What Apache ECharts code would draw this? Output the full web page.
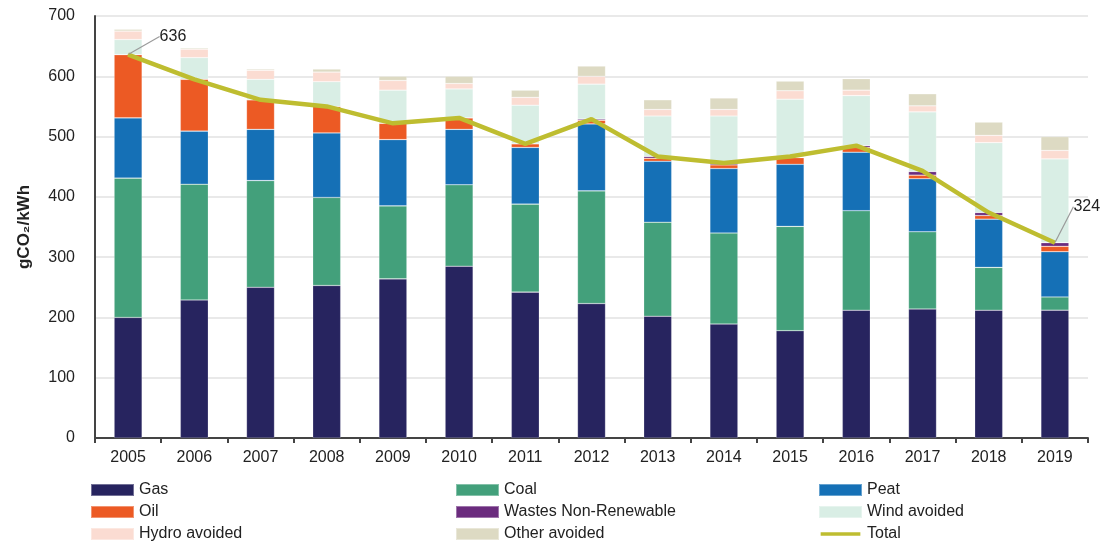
<!DOCTYPE html>
<html>
<head>
<meta charset="utf-8">
<script src="https://cdn.jsdelivr.net/npm/echarts@6/dist/echarts.min.js"></script>
<style>
  html, body { margin: 0; padding: 0; background: #fff; }
  #co2-intensity-chart { width: 1103px; height: 546px; }
</style>
</head>
<body>
<div id="co2-intensity-chart"></div>
<script>
// years on the x axis
var years = ["2005", "2006", "2007", "2008", "2009", "2010", "2011", "2012", "2013", "2014", "2015", "2016", "2017", "2018", "2019"];

// emissions by fuel, gCO2/kWh
var gas = [200, 229, 250, 253, 264, 285, 242, 223, 202, 189, 178, 212, 214, 212, 212];
var coal = [231, 192, 177, 146, 121, 135, 146, 187, 156, 151, 173, 165, 128, 71, 22];
var peat = [100, 88, 85, 107, 110, 92, 94, 111, 101, 107, 103, 97, 88, 80, 75];
var oil = [105, 86, 49, 44, 27, 19, 6, 6, 5, 6, 11, 8, 6, 6, 9];
var wastes = [0, 0, 0, 0, 0, 0, 0, 2, 3, 3, 1, 3, 6, 5, 6];
// avoided by renewables
var windAvoided = [25, 36, 34, 41, 55, 48, 64, 58, 67, 78, 96, 83, 99, 116, 139];
var hydroAvoided = [14, 14, 15, 16, 16, 9, 13, 13, 11, 11, 14, 9, 10, 12, 14];
var otherAvoided = [3, 2, 2, 5, 7, 12, 12, 17, 16, 19, 16, 19, 20, 22, 23];
// total intensity line
var total = [636, 595, 561, 550, 522, 531, 488, 529, 467, 456, 467, 485, 443, 374, 324];

var yTicks = [0, 100, 200, 300, 400, 500, 600, 700];

var fontFam = "'Liberation Sans', Arial, sans-serif";

var chartDom = document.getElementById("co2-intensity-chart");
var myChart = echarts.init(chartDom);

function barSeries(name, data, color) {
  return {
    name: name,
    type: "bar",
    stack: "co2",
    barWidth: 28,
    color: color,
    itemStyle: { borderColor: "rgba(255,255,255,0.35)", borderWidth: 0.6 },
    data: data,
  };
}

// labels only on first and last point of total
var totalData = total.map(function (v, i) {
  if (i === 0 || i === total.length - 1) {
    return { value: v, label: { show: true } };
  }
  return v;
});

// thick line icon for the Total legend entry (extra move-tos keep the box 43x13)
var lineIcon = "path://M0,0 M43,13 M0,4.5 L43,4.5 L43,8.5 L0,8.5 Z";

function legendBlock(left, names) {
  return {
    orient: "vertical",
    left: left,
    top: 477,
    height: 75,
    itemWidth: 43,
    itemHeight: 12,
    itemGap: 6,
    selectedMode: false,
    textStyle: { color: "#222", fontSize: 16, fontFamily: fontFam },
    data: names.map(function (n) {
      return n === "Total" ? { name: n, icon: lineIcon } : { name: n, icon: "rect" };
    }),
  };
}

var option = {
  animation: false,
  backgroundColor: "#fff",
  textStyle: { fontFamily: fontFam },
  grid: { left: 95, right: 15, top: 16, bottom: 108 },
  legend: [
    legendBlock(85, ["Gas", "Oil", "Hydro avoided"]),
    legendBlock(450, ["Coal", "Wastes Non-Renewable", "Other avoided"]),
    legendBlock(813, ["Peat", "Wind avoided", "Total"]),
  ],
  xAxis: {
    type: "category",
    data: years,
    axisLine: { show: true, lineStyle: { color: "#444", width: 2 } },
    axisTick: { show: true, length: 5, lineStyle: { color: "#444", width: 2 } },
    axisLabel: { color: "#222", fontSize: 16, margin: 12, fontFamily: fontFam },
  },
  yAxis: {
    type: "value",
    min: yTicks[0],
    max: yTicks[yTicks.length - 1],
    interval: 100,
    name: "gCO\u2082/kWh",
    nameLocation: "middle",
    nameGap: 62,
    nameTextStyle: { color: "#222", fontSize: 17, fontWeight: "bold", fontFamily: fontFam },
    axisLine: { show: true, lineStyle: { color: "#444", width: 2 } },
    axisTick: { show: false },
    axisLabel: { color: "#222", fontSize: 16, margin: 20, fontFamily: fontFam },
    splitLine: { show: true, lineStyle: { color: "#e2e2e2", width: 1.5 } },
  },
  series: [
    barSeries("Gas", gas, "#27245f"),
    barSeries("Coal", coal, "#43a07b"),
    barSeries("Peat", peat, "#1570b6"),
    barSeries("Oil", oil, "#ec5a24"),
    barSeries("Wastes Non-Renewable", wastes, "#6b2c7e"),
    barSeries("Wind avoided", windAvoided, "#d9eee5"),
    barSeries("Hydro avoided", hydroAvoided, "#fbdcd2"),
    barSeries("Other avoided", otherAvoided, "#dddac3"),
    {
      name: "Total",
      type: "line",
      symbol: "circle",
      symbolSize: 1,
      showSymbol: true,
      showAllSymbol: true,
      z: 5,
      color: "#bebd30",
      lineStyle: { width: 4.5, color: "#bebd30" },
      label: {
        show: false,
        position: "right",
        color: "#222",
        fontSize: 16,
        fontFamily: fontFam,
        formatter: "{c}",
      },
      labelLine: { show: true, lineStyle: { color: "#9a9a9a", width: 1.2 } },
      labelLayout: function (p) {
        if (p.dataIndex === 0) return { dx: 26, dy: -18 };
        if (p.dataIndex === total.length - 1) return { dx: 13, dy: -36 };
        return {};
      },
      data: totalData,
    },
  ],
};

myChart.setOption(option);
</script>
</body>
</html>
